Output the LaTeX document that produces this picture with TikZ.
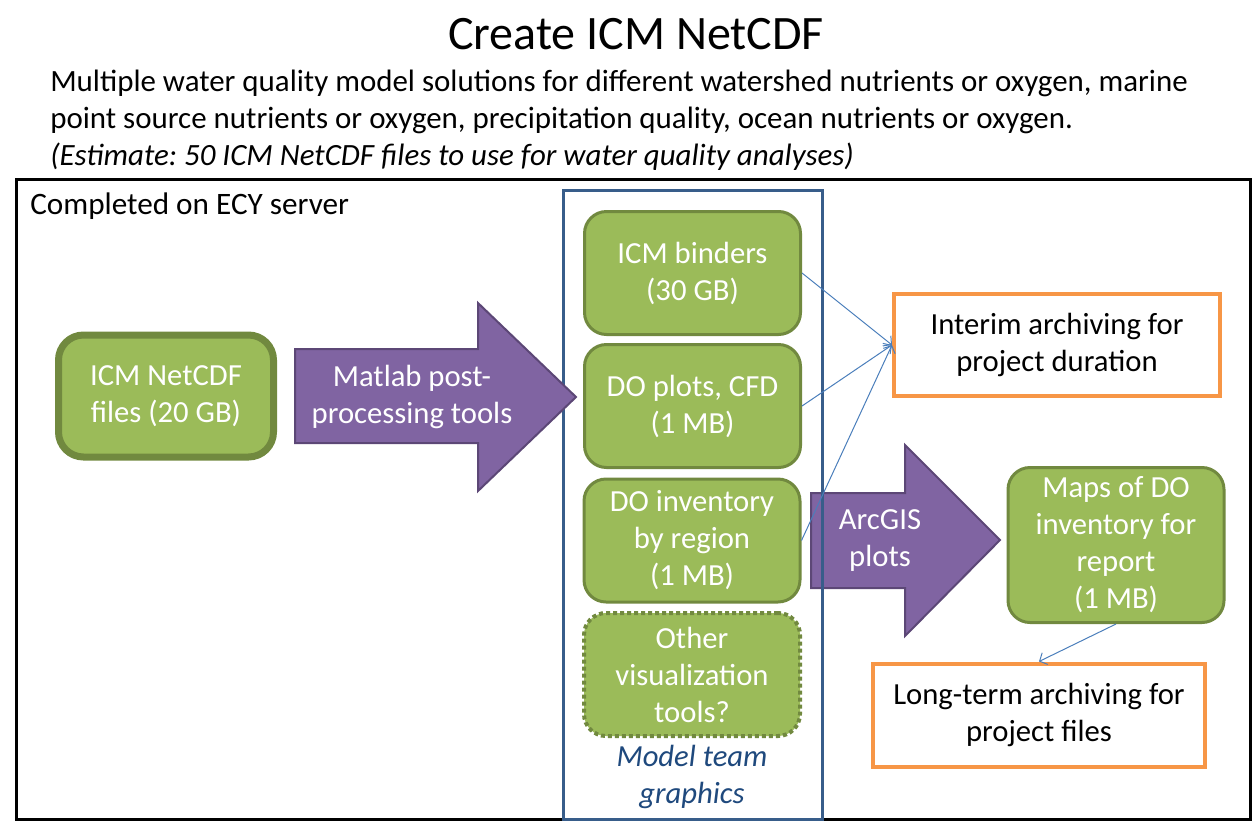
\documentclass[tikz,border=0pt]{standalone}
\usepackage{fontspec}
\setmainfont{Carlito}
\usetikzlibrary{arrows.meta}

\definecolor{greenfill}{HTML}{9BBB59}
\definecolor{greenedge}{HTML}{71893F}
\definecolor{purplefill}{HTML}{8064A2}
\definecolor{purpleedge}{HTML}{5C4776}
\definecolor{orangeedge}{HTML}{F79646}
\definecolor{teamblue}{HTML}{385D8A}
\definecolor{teamtext}{HTML}{1F497D}
\definecolor{linkblue}{HTML}{4A7EBB}

\newdimen\px
\px=0.75pt

\tikzset{
  boxfont/.style={font=\fontsize{23}{27.75}\selectfont},
  greenbox/.style={boxfont, draw=greenedge, fill=greenfill, text=white,
    line width=3\px, rounded corners=22\px, align=center, inner sep=0pt,
    minimum width=216\px, minimum height=123\px},
  archivebox/.style={boxfont, draw=orangeedge, fill=white, text=black,
    line width=4\px, align=center, inner sep=0pt},
  blockarrow/.style={fill=purplefill, draw=purpleedge, line width=2\px, line join=miter},
  arrowtext/.style={boxfont, text=white, align=center, inner sep=0pt},
  link/.style={draw=linkblue, line width=1\px, -{Straight Barb[length=4.5pt,width=9.75pt]}},
  frame/.style={draw=black, line width=3\px},
  teambox/.style={draw=teamblue, line width=3\px},
  desctext/.style={font=\fontsize{23.2}{27}\selectfont, anchor=base west, inner sep=0pt}
}

\begin{document}
\frenchspacing
\begin{tikzpicture}[x=0.75pt, y=-0.75pt]
\useasboundingbox (0,0) rectangle (1259,825);

% heading and description
\node[font=\fontsize{36}{40}\selectfont, anchor=base] (title) at (636,49) {Create ICM NetCDF};
\node[desctext] (desc1) at (50,91)
  {Multiple water quality model solutions for different watershed nutrients or oxygen, marine};
\node[desctext] (desc2) at (50,128)
  {point source nutrients or oxygen, precipitation quality, ocean nutrients or oxygen.};
\node[desctext, font=\fontsize{23.2}{27}\selectfont\itshape] (desc3) at (50,165)
  {(Estimate: 50 ICM NetCDF files to use for water quality analyses)};

% server frame
\draw[frame] (16,179) rectangle (1250,819);
\node[font=\fontsize{23.4}{27}\selectfont, anchor=base west, inner sep=0pt] (server) at (30,214)
  {Completed on ECY server};

% ArcGIS block arrow (the team box line runs over it)
\filldraw[blockarrow] (811,493) -- (905,493) -- (905,445) -- (1000,540)
  -- (905,636) -- (905,588) -- (811,588) -- cycle;
\node[arrowtext] (arcgis) at (880,541) {ArcGIS\\plots};

% model team box
\draw[teambox] (563,190) rectangle (822,819);
\node[font=\fontsize{23}{27.75}\selectfont\itshape, text=teamtext, align=center, inner sep=0pt]
  (team) at (692,777) {Model team\\graphics};

% Matlab block arrow
\filldraw[blockarrow] (295,349) -- (478,349) -- (478,303) -- (576,397)
  -- (478,491) -- (478,443) -- (295,443) -- cycle;
\node[arrowtext] (matlab) at (412,397) {Matlab post-\\processing tools};

% source files
\node[greenbox, line width=7\px, rounded corners=25\px, minimum width=215\px, minimum height=122\px]
  (netcdf) at (166,396) {ICM NetCDF\\files (20 GB)};

% model team products
\node[greenbox] (binders) at (692.5,273) {ICM binders\\(30 GB)};
\node[greenbox] (doplots) at (692.5,406) {DO plots, CFD\\(1 MB)};
\node[greenbox] (doinv) at (692,540.5) {DO inventory\\by region\\(1 MB)};
\node[greenbox, line width=4\px, dash pattern=on 4\px off 3\px] (other) at (692,674.5)
  {Other\\visualization\\tools?};

% report maps
\node[greenbox, minimum height=155\px] (maps) at (1116,545) {Maps of DO\\inventory for\\report\\(1 MB)};

% archives
\node[archivebox, minimum width=326\px, minimum height=102\px] (interim) at (1057,345)
  {Interim archiving for\\project duration};
\node[archivebox, minimum width=332\px, minimum height=103\px] (longterm) at (1039,715)
  {Long-term archiving for\\project files};

% connectors
\draw[link] (binders.east) -- (interim.west);
\draw[link] (doplots.east) -- (interim.west);
\draw[link] (doinv.east) -- (interim.west);
\draw[link] (maps.south) -- (longterm.north);
\end{tikzpicture}
\end{document}
